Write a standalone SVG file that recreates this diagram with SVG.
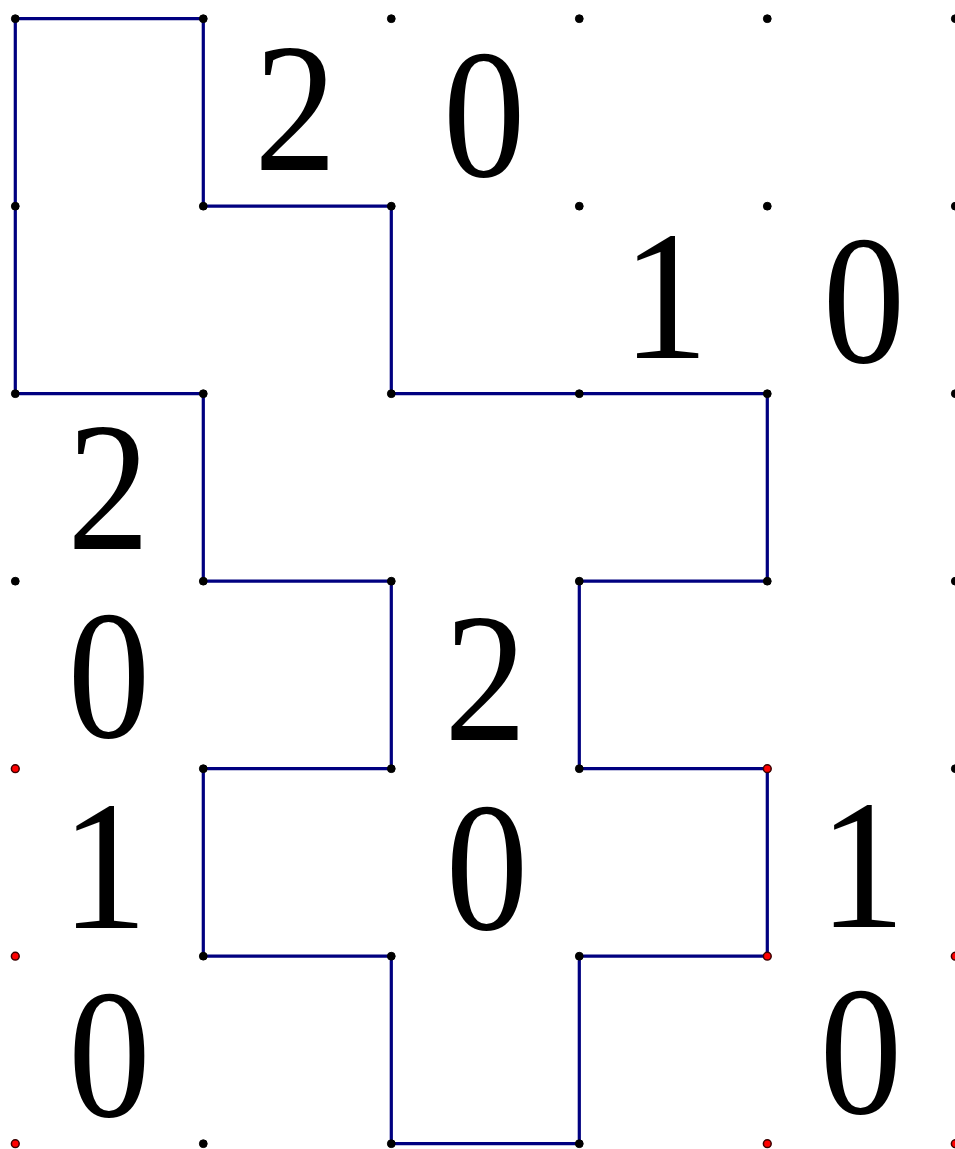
<svg xmlns="http://www.w3.org/2000/svg" width="955" height="1149" viewBox="0 0 955 1149">
<style>
.edge{fill:none;stroke:#000080;stroke-width:3.2;stroke-linejoin:miter}
.dot{fill:#000;stroke:#000;stroke-width:1}
.red{fill:#ff0000;stroke:#3a0000;stroke-width:1.5}
</style>
<rect width="955" height="1149" fill="#fff"/>
<g id="connectors">
<path class="edge" d="M15.3,18.7 H203.3 V206.2 H391.3 V393.7 H767.3 V581.2 H579.3 V768.7 H767.3 V956.2 H579.3 V1143.7 H391.3 V956.2 H203.3 V768.7 H391.3 V581.2 H203.3 V393.7 H15.3 Z"/>
</g>
<g id="grid-points">
<g id="row0">
<circle class="dot" cx="15.3" cy="18.7" r="3.9"/><circle class="dot" cx="203.3" cy="18.7" r="3.9"/><circle class="dot" cx="391.3" cy="18.7" r="3.9"/><circle class="dot" cx="579.3" cy="18.7" r="3.9"/><circle class="dot" cx="767.3" cy="18.7" r="3.9"/><circle class="dot" cx="955.3" cy="18.7" r="3.9"/>
</g>
<g id="row1">
<circle class="dot" cx="15.3" cy="206.2" r="3.9"/><circle class="dot" cx="203.3" cy="206.2" r="3.9"/><circle class="dot" cx="391.3" cy="206.2" r="3.9"/><circle class="dot" cx="579.3" cy="206.2" r="3.9"/><circle class="dot" cx="767.3" cy="206.2" r="3.9"/><circle class="dot" cx="955.3" cy="206.2" r="3.9"/>
</g>
<g id="row2">
<circle class="dot" cx="15.3" cy="393.7" r="3.9"/><circle class="dot" cx="203.3" cy="393.7" r="3.9"/><circle class="dot" cx="391.3" cy="393.7" r="3.9"/><circle class="dot" cx="579.3" cy="393.7" r="3.9"/><circle class="dot" cx="767.3" cy="393.7" r="3.9"/><circle class="dot" cx="955.3" cy="393.7" r="3.9"/>
</g>
<g id="row3">
<circle class="dot" cx="15.3" cy="581.2" r="3.9"/><circle class="dot" cx="203.3" cy="581.2" r="3.9"/><circle class="dot" cx="391.3" cy="581.2" r="3.9"/><circle class="dot" cx="579.3" cy="581.2" r="3.9"/><circle class="dot" cx="767.3" cy="581.2" r="3.9"/><circle class="dot" cx="955.3" cy="581.2" r="3.9"/>
</g>
<g id="row4">
<circle class="red" cx="15.3" cy="768.7" r="3.9"/><circle class="dot" cx="203.3" cy="768.7" r="3.9"/><circle class="dot" cx="391.3" cy="768.7" r="3.9"/><circle class="dot" cx="579.3" cy="768.7" r="3.9"/><circle class="red" cx="767.3" cy="768.7" r="3.9"/><circle class="dot" cx="955.3" cy="768.7" r="3.9"/>
</g>
<g id="row5">
<circle class="red" cx="15.3" cy="956.2" r="3.9"/><circle class="dot" cx="203.3" cy="956.2" r="3.9"/><circle class="dot" cx="391.3" cy="956.2" r="3.9"/><circle class="dot" cx="579.3" cy="956.2" r="3.9"/><circle class="red" cx="767.3" cy="956.2" r="3.9"/><circle class="red" cx="955.3" cy="956.2" r="3.9"/>
</g>
<g id="row6">
<circle class="red" cx="15.3" cy="1143.7" r="3.9"/><circle class="dot" cx="203.3" cy="1143.7" r="3.9"/><circle class="dot" cx="391.3" cy="1143.7" r="3.9"/><circle class="dot" cx="579.3" cy="1143.7" r="3.9"/><circle class="red" cx="767.3" cy="1143.7" r="3.9"/><circle class="red" cx="955.3" cy="1143.7" r="3.9"/>
</g>
</g>
<g id="numbers" font-family="Liberation Serif, Times New Roman, DejaVu Serif, serif" font-size="185" fill="#000" text-anchor="middle">
<g id="n-r0c1"><text transform="translate(295.5,170) scale(0.89,1)">2</text></g>
<g id="n-r0c2"><text transform="translate(484.2,175.7) scale(0.89,1)">0</text></g>
<g id="n-r1c3"><text transform="translate(665.3,358.3) scale(0.94,1)">1</text></g>
<g id="n-r1c4"><text transform="translate(863.8,362.4) scale(0.89,1)">0</text></g>
<g id="n-r2c0"><text transform="translate(108.3,549) scale(0.89,1)">2</text></g>
<g id="n-r3c0"><text transform="translate(109,736.7) scale(0.89,1)">0</text></g>
<g id="n-r3c2"><text transform="translate(485.5,740) scale(0.89,1)">2</text></g>
<g id="n-r4c0"><text transform="translate(104.3,927.7) scale(0.94,1)">1</text></g>
<g id="n-r4c2"><text transform="translate(487,929) scale(0.89,1)">0</text></g>
<g id="n-r4c4"><text transform="translate(862,927.3) scale(0.94,1)">1</text></g>
<g id="n-r5c0"><text transform="translate(109.5,1115.7) scale(0.89,1)">0</text></g>
<g id="n-r5c4"><text transform="translate(860.8,1113.4) scale(0.89,1)">0</text></g>
</g>
</svg>
